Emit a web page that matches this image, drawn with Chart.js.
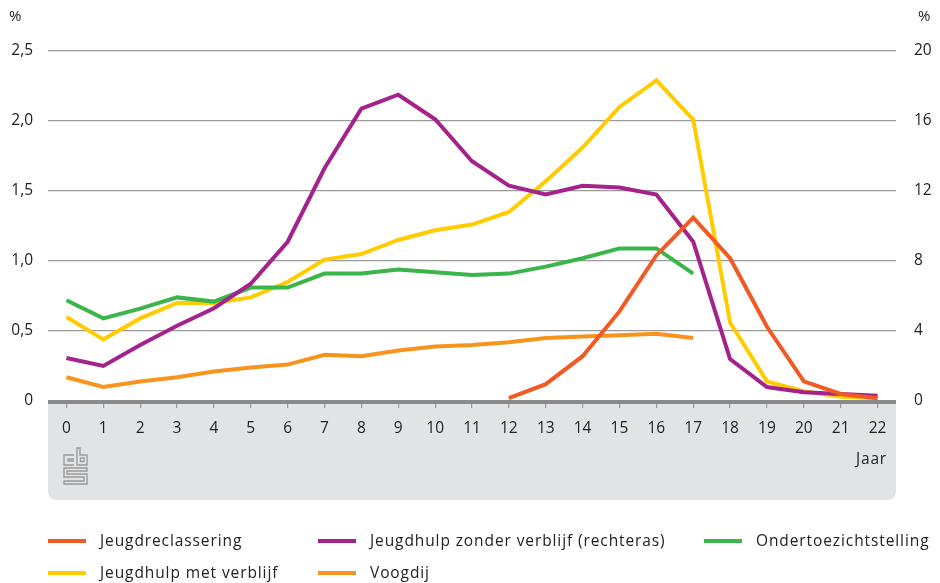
<!DOCTYPE html>
<html>
<head>
<meta charset="utf-8">
<script src="https://cdn.jsdelivr.net/npm/chart.js@4/dist/chart.umd.min.js"></script>
<style>
  html, body { margin: 0; padding: 0; background: #fff; }
  #wrap { position: relative; width: 940px; height: 583px; }
  canvas { position: absolute; left: 0; top: 0; }
  .lg { position: absolute; font-family: "Open Sans", sans-serif; font-size: 15.5px; color: #222; letter-spacing: 0.9px; white-space: nowrap; line-height: 20px; }
  .sw { position: absolute; width: 38px; height: 4px; }
</style>
</head>
<body>
<div id="wrap">
  <canvas id="c" width="940" height="583"></canvas>
</div>
<script>
const ages = ['0','1','2','3','4','5','6','7','8','9','10','11','12','13','14','15','16','17','18','19','20','21','22'];
const leftTicks = [0, 0.5, 1.0, 1.5, 2.0, 2.5];
const rightTicks = [0, 4, 8, 12, 16, 20];

const jeugdreclassering = [null,null,null,null,null,null,null,null,null,null,null,null,0.02,0.12,0.32,0.64,1.04,1.31,1.02,0.53,0.14,0.05,0.02];
const jeugdhulpZonder = [2.46,2.0,3.2,4.3,5.3,6.7,9.1,13.3,16.7,17.5,16.1,13.7,12.3,11.8,12.3,12.2,11.8,9.1,2.4,0.8,0.5,0.4,0.3];
const ondertoezicht = [0.72,0.59,0.66,0.74,0.71,0.81,0.81,0.91,0.91,0.94,0.92,0.90,0.91,0.96,1.02,1.09,1.09,0.91,null,null,null,null,null];
const jeugdhulpMet = [0.60,0.44,0.59,0.70,0.70,0.74,0.85,1.01,1.05,1.15,1.22,1.26,1.35,1.57,1.81,2.10,2.29,2.01,0.56,0.14,0.07,0.03,0.02];
const voogdij = [0.17,0.10,0.14,0.17,0.21,0.24,0.26,0.33,0.32,0.36,0.39,0.40,0.42,0.45,0.46,0.47,0.48,0.45,null,null,null,null,null];

const names = ['Jeugdreclassering','Jeugdhulp zonder verblijf (rechteras)','Ondertoezichtstelling','Jeugdhulp met verblijf','Voogdij'];
const colors = ['#f15a24','#a4228c','#3bb54a','#ffcc00','#f7941e'];

const FONT = '"Open Sans", sans-serif';
const TXT = '#222';

function ds(label, data, color, axis) {
  return { label, data, borderColor: color, backgroundColor: color, borderWidth: 4,
    pointRadius: 0, pointHoverRadius: 0, tension: 0, spanGaps: false,
    borderJoinStyle: 'miter', borderCapStyle: 'butt', yAxisID: axis, fill: false };
}

const decor = {
  id: 'decor',
  beforeDraw(chart) {
    const ctx = chart.ctx, a = chart.chartArea;
    ctx.save();
    // grey panel
    const x0 = a.left, x1 = a.right, y0 = a.bottom, y1 = 500, r = 9;
    ctx.fillStyle = '#e2e3e5';
    ctx.beginPath();
    ctx.moveTo(x0, y0);
    ctx.lineTo(x1, y0);
    ctx.lineTo(x1, y1 - r);
    ctx.quadraticCurveTo(x1, y1, x1 - r, y1);
    ctx.lineTo(x0 + r, y1);
    ctx.quadraticCurveTo(x0, y1, x0, y1 - r);
    ctx.closePath();
    ctx.fill();
    ctx.restore();
  },
  afterDraw(chart) {
    const ctx = chart.ctx, a = chart.chartArea;
    ctx.save();
    // axis line
    ctx.strokeStyle = '#8a8a8a';
    ctx.lineWidth = 4;
    ctx.beginPath();
    ctx.moveTo(a.left, a.bottom + 1);
    ctx.lineTo(a.right, a.bottom + 1);
    ctx.stroke();
    // texts
    ctx.fillStyle = TXT;
    ctx.font = '15px ' + FONT;
    ctx.textBaseline = 'middle';
    ctx.textAlign = 'left';
    ctx.fillText('%', 9, 17);
    ctx.fillText('%', 918, 17);
    ctx.textAlign = 'right';
    ctx.font = '15.5px ' + FONT;
    try { ctx.letterSpacing = '0.8px'; } catch(e) {}
    ctx.fillText('Jaar', 887, 460);
    // cbs logo (simplified)
    ctx.strokeStyle = '#9b9b9b';
    ctx.lineWidth = 1.4;
    ctx.beginPath();
    // c
    ctx.moveTo(74, 455); ctx.lineTo(64, 455); ctx.lineTo(64, 465); ctx.lineTo(74, 465);
    ctx.moveTo(74, 459); ctx.lineTo(68, 459); ctx.lineTo(68, 461); ctx.lineTo(74, 461);
    // b
    ctx.moveTo(77, 448); ctx.lineTo(77, 465); ctx.lineTo(87, 465); ctx.lineTo(87, 455); ctx.lineTo(80, 455); ctx.lineTo(80, 448); ctx.closePath();
    ctx.rect(80.5, 458, 3.5, 3.5);
    // S
    ctx.moveTo(87, 468); ctx.lineTo(64, 468); ctx.lineTo(64, 477); ctx.lineTo(84, 477); ctx.lineTo(84, 481); ctx.lineTo(64, 481); ctx.lineTo(64, 484); ctx.lineTo(87, 484); ctx.lineTo(87, 474); ctx.lineTo(67, 474); ctx.lineTo(67, 471); ctx.lineTo(87, 471); ctx.closePath();
    ctx.stroke();
    ctx.restore();
  }
};

new Chart(document.getElementById('c'), {
  type: 'line',
  data: {
    labels: ages,
    datasets: [
      ds(names[0], jeugdreclassering, colors[0], 'y'),
      ds(names[1], jeugdhulpZonder, colors[1], 'y2'),
      ds(names[2], ondertoezicht, colors[2], 'y'),
      ds(names[3], jeugdhulpMet, colors[3], 'y'),
      ds(names[4], voogdij, colors[4], 'y')
    ]
  },
  options: {
    responsive: false,
    animation: false,
    layout: { padding: { top: 51, bottom: 83, left: 0, right: 0 } },
    plugins: { legend: { display: false }, tooltip: { enabled: false } },
    scales: {
      x: {
        offset: true,
        grid: { display: true, drawOnChartArea: false, offset: false, tickLength: 7, color: '#9a9a9a', lineWidth: 1.2 },
        border: { display: false },
        ticks: { color: TXT, font: { family: FONT, size: 15.5 }, padding: 11, maxRotation: 0, autoSkip: false },
        afterFit(s) { s.height = 99; }
      },
      y: {
        position: 'left',
        min: 0, max: 2.5,
        afterBuildTicks(s) { s.ticks = leftTicks.map(v => ({ value: v })); },
        grid: { color: (c) => c.tick && c.tick.value === 0 ? 'rgba(0,0,0,0)' : '#9a9a9a', lineWidth: 1.3, drawTicks: false },
        border: { display: false },
        ticks: { color: TXT, font: { family: FONT, size: 15.5 }, padding: 15,
          callback: (v) => v === 0 ? '0' : Number(v).toFixed(1).replace('.', ',') },
        afterFit(s) { s.width = 48; }
      },
      y2: {
        position: 'right',
        min: 0, max: 20,
        afterBuildTicks(s) { s.ticks = rightTicks.map(v => ({ value: v })); },
        grid: { drawOnChartArea: false, drawTicks: false },
        border: { display: false },
        ticks: { color: TXT, font: { family: FONT, size: 15.5 }, padding: 18, callback: (v) => String(v) },
        afterFit(s) { s.width = 44; }
      }
    }
  },
  plugins: [decor]
});

// HTML legend
const wrap = document.getElementById('wrap');
const legendPos = [
  { i: 0, x: 48, y: 541 },
  { i: 1, x: 318, y: 541 },
  { i: 2, x: 704, y: 541 },
  { i: 3, x: 48, y: 573 },
  { i: 4, x: 318, y: 573 }
];
legendPos.forEach(p => {
  const sw = document.createElement('div');
  sw.className = 'sw';
  sw.style.left = p.x + 'px';
  sw.style.top = (p.y - 2) + 'px';
  sw.style.background = colors[p.i];
  wrap.appendChild(sw);
  const t = document.createElement('div');
  t.className = 'lg';
  t.style.left = (p.x + 52) + 'px';
  t.style.top = (p.y - 11) + 'px';
  t.textContent = names[p.i];
  wrap.appendChild(t);
});
</script>
</body>
</html>
